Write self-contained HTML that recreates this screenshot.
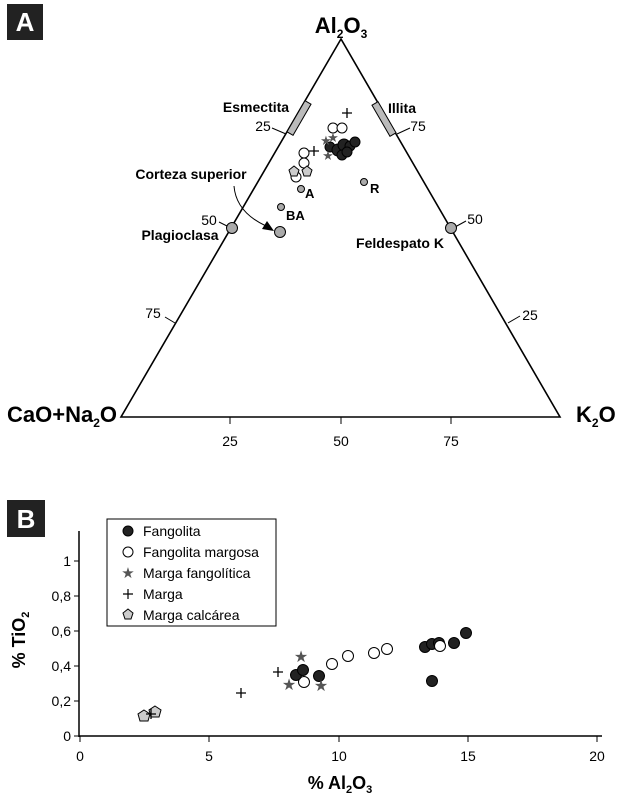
<!DOCTYPE html>
<html><head><meta charset="utf-8"><style>
body{margin:0;background:#fff}
svg{display:block;font-family:"Liberation Sans",Arial,sans-serif}
</style></head><body>
<svg width="618" height="798" viewBox="0 0 618 798" xmlns="http://www.w3.org/2000/svg">
<!-- Panel A -->
<rect x="7" y="4" width="36" height="36" fill="#222"/>
<text x="25" y="31" font-size="26" font-weight="bold" fill="#fff" text-anchor="middle">A</text>
<text x="341" y="33" font-size="22" font-weight="bold" text-anchor="middle">Al<tspan font-size="12" dy="5">2</tspan><tspan dy="-5">O</tspan><tspan font-size="12" dy="5">3</tspan></text>
<polygon points="341,39 121,417 560,417" fill="none" stroke="#000" stroke-width="1.6"/>
<!-- bars -->
<g transform="translate(299,118) rotate(30)"><rect x="-3.5" y="-18" width="7" height="36" fill="#bbb" stroke="#000" stroke-width="1"/></g>
<g transform="translate(384,119) rotate(-30)"><rect x="-3.5" y="-18" width="7" height="36" fill="#bbb" stroke="#000" stroke-width="1"/></g>
<text x="256" y="112" font-size="14" font-weight="bold" text-anchor="middle">Esmectita</text>
<text x="402" y="113" font-size="14" font-weight="bold" text-anchor="middle">Illita</text>
<g font-size="14" fill="#000">
<text x="263" y="131" text-anchor="middle">25</text>
<text x="418" y="131" text-anchor="middle">75</text>
<text x="209" y="225" text-anchor="middle">50</text>
<text x="475" y="224" text-anchor="middle">50</text>
<text x="153" y="318" text-anchor="middle">75</text>
<text x="530" y="320" text-anchor="middle">25</text>
<text x="230" y="446" text-anchor="middle">25</text>
<text x="341" y="446" text-anchor="middle">50</text>
<text x="451" y="446" text-anchor="middle">75</text>
</g>
<g stroke="#000" stroke-width="1">
<line x1="272" y1="128" x2="286" y2="134"/>
<line x1="397" y1="134" x2="410" y2="128"/>
<line x1="219" y1="222" x2="229" y2="227"/>
<line x1="455" y1="227" x2="466" y2="221"/>
<line x1="165" y1="317" x2="175" y2="323"/>
<line x1="508" y1="323" x2="520" y2="316"/>
<line x1="230" y1="417" x2="230" y2="424"/>
<line x1="341" y1="417" x2="341" y2="424"/>
<line x1="451" y1="417" x2="451" y2="424"/>
</g>
<text x="7" y="422" font-size="22" font-weight="bold">CaO+Na<tspan font-size="12" dy="5">2</tspan><tspan dy="-5">O</tspan></text>
<text x="576" y="422" font-size="22" font-weight="bold">K<tspan font-size="12" dy="5">2</tspan><tspan dy="-5">O</tspan></text>
<!-- data cluster -->
<g stroke="#000" stroke-width="1">
<circle cx="333" cy="128" r="5" fill="#fff"/><circle cx="342" cy="128" r="5" fill="#fff"/>
<circle cx="304" cy="153" r="5" fill="#fff"/><circle cx="304" cy="163" r="5" fill="#fff"/><circle cx="296" cy="177" r="5" fill="#fff"/>
<circle cx="330" cy="147" r="5" fill="#222"/><circle cx="338" cy="150" r="6" fill="#222"/><circle cx="344" cy="145" r="6" fill="#222"/>
<circle cx="350" cy="146" r="5" fill="#222"/><circle cx="355" cy="142" r="5" fill="#222"/><circle cx="342" cy="155" r="5" fill="#222"/><circle cx="347" cy="152" r="5" fill="#222"/>
<polygon points="294,166 299,170 297,176 291,176 289,170" fill="#ccc"/>
<polygon points="307,166 312,170 310,176 304,176 302,170" fill="#ccc"/>
<circle cx="301" cy="189" r="3.5" fill="#aaa"/>
<circle cx="364" cy="182" r="3.5" fill="#aaa"/>
<circle cx="281" cy="207" r="3.5" fill="#aaa"/>
<circle cx="280" cy="232" r="5.5" fill="#aaa"/>
<circle cx="232" cy="228" r="5.5" fill="#aaa"/>
<circle cx="451" cy="228" r="5.5" fill="#aaa"/>
</g>
<g fill="#555" font-size="13"><text x="326" y="145" text-anchor="middle">★</text><text x="333" y="142" text-anchor="middle">★</text><text x="328" y="160" text-anchor="middle">★</text></g>
<g stroke="#000" stroke-width="1.3"><path d="M342 113h10M347 108v10M309 151h10M314 146v10"/></g>
<g font-size="13" font-weight="bold"><text x="305" y="198">A</text><text x="370" y="193">R</text><text x="286" y="220">BA</text></g>
<text x="191" y="179" font-size="14" font-weight="bold" text-anchor="middle">Corteza superior</text>
<text x="180" y="240" font-size="14" font-weight="bold" text-anchor="middle">Plagioclasa</text>
<text x="400" y="248" font-size="14" font-weight="bold" text-anchor="middle">Feldespato K</text>
<path d="M234 186 Q236 212 266 226" fill="none" stroke="#000" stroke-width="1"/>
<polygon points="274,231 262,229 267,221" fill="#000"/>
<!-- Panel B -->
<rect x="7" y="500" width="38" height="37" fill="#222"/>
<text x="26" y="528" font-size="26" font-weight="bold" fill="#fff" text-anchor="middle">B</text>
<line x1="79" y1="531" x2="79" y2="737" stroke="#000" stroke-width="1.5"/>
<line x1="79" y1="736" x2="602" y2="736" stroke="#000" stroke-width="1.5"/>
<g stroke="#000" stroke-width="1">
<line x1="74" y1="561" x2="79" y2="561"/><line x1="74" y1="596" x2="79" y2="596"/><line x1="74" y1="631" x2="79" y2="631"/><line x1="74" y1="666" x2="79" y2="666"/><line x1="74" y1="701" x2="79" y2="701"/><line x1="74" y1="736" x2="79" y2="736"/>
<line x1="80" y1="736" x2="80" y2="742"/><line x1="209" y1="736" x2="209" y2="742"/><line x1="339" y1="736" x2="339" y2="742"/><line x1="468" y1="736" x2="468" y2="742"/><line x1="597" y1="736" x2="597" y2="742"/>
</g>
<g font-size="14" text-anchor="end"><text x="71" y="566">1</text><text x="71" y="601">0,8</text><text x="71" y="636">0,6</text><text x="71" y="671">0,4</text><text x="71" y="706">0,2</text><text x="71" y="741">0</text></g>
<g font-size="14" text-anchor="middle"><text x="80" y="761">0</text><text x="209" y="761">5</text><text x="339" y="761">10</text><text x="468" y="761">15</text><text x="597" y="761">20</text></g>
<text x="340" y="789" font-size="18" font-weight="bold" text-anchor="middle">% Al<tspan font-size="11" dy="4">2</tspan><tspan dy="-4">O</tspan><tspan font-size="11" dy="4">3</tspan></text>
<text transform="translate(25,640) rotate(-90)" font-size="18" font-weight="bold" text-anchor="middle">% TiO<tspan font-size="11" dy="4">2</tspan></text>
<rect x="107" y="519" width="169" height="107" fill="#fff" stroke="#000" stroke-width="1"/>
<g font-size="14"><text x="143" y="536">Fangolita</text><text x="143" y="557">Fangolita margosa</text><text x="143" y="578">Marga fangolítica</text><text x="143" y="599">Marga</text><text x="143" y="620">Marga calcárea</text></g>
<circle cx="128" cy="531" r="5" fill="#222" stroke="#000"/>
<circle cx="128" cy="552" r="5" fill="#fff" stroke="#000"/>
<text x="128" y="578" font-size="15" fill="#555" text-anchor="middle">★</text>
<path d="M123 594h10M128 589v10" stroke="#000" stroke-width="1.2"/>
<polygon points="128,609 133,613 131,619 125,619 123,613" fill="#ccc" stroke="#000"/>
<g stroke="#000" stroke-width="1">
<circle cx="304" cy="682" r="5.5" fill="#fff"/><circle cx="332" cy="664" r="5.5" fill="#fff"/><circle cx="348" cy="656" r="5.5" fill="#fff"/><circle cx="374" cy="653" r="5.5" fill="#fff"/><circle cx="387" cy="649" r="5.5" fill="#fff"/>
<circle cx="296" cy="675" r="5.5" fill="#222"/><circle cx="303" cy="670" r="5.5" fill="#222"/><circle cx="319" cy="676" r="5.5" fill="#222"/><circle cx="425" cy="647" r="5.5" fill="#222"/><circle cx="432" cy="644" r="5.5" fill="#222"/><circle cx="454" cy="643" r="5.5" fill="#222"/><circle cx="466" cy="633" r="5.5" fill="#222"/><circle cx="432" cy="681" r="5.5" fill="#222"/><circle cx="439" cy="643" r="5.5" fill="#222"/>
<circle cx="440" cy="646" r="5.5" fill="#fff"/>
<polygon points="144,710 150,714 148,721 140,721 138,714" fill="#ccc"/>
<polygon points="155,706 161,710 159,717 151,717 149,710" fill="#ccc"/>
</g>
<g fill="#555" font-size="16" text-anchor="middle"><text x="301" y="662">★</text><text x="289" y="690">★</text><text x="321" y="691">★</text></g>
<g stroke="#000" stroke-width="1.3"><path d="M273 672h10M278 667v10M236 693h10M241 688v10M146 714h10M151 709v10"/></g>
</svg>
</body></html>
